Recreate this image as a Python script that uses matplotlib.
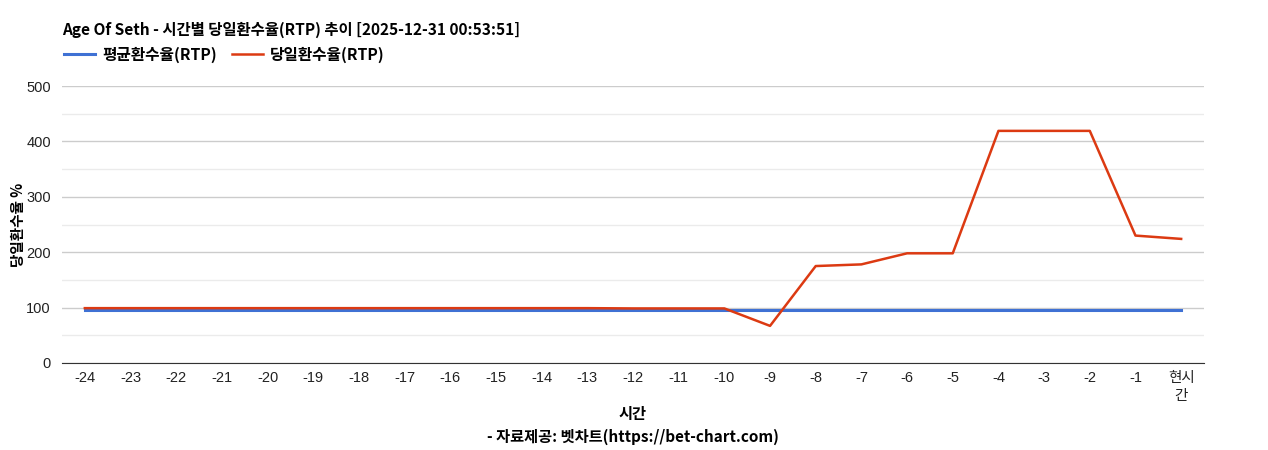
import matplotlib
matplotlib.use("Agg")
import matplotlib.pyplot as plt
from matplotlib.lines import Line2D

plt.rcParams['font.family'] = ['Noto Sans CJK KR', 'DejaVu Sans']
TICK_FONT = ['Liberation Sans', 'Noto Sans CJK KR']

# ==== 데이터 ====
hours = ['-24', '-23', '-22', '-21', '-20', '-19', '-18', '-17', '-16', '-15', '-14', '-13',
         '-12', '-11', '-10', '-9', '-8', '-7', '-6', '-5', '-4', '-3', '-2', '-1', '현시\n간']
avg_rtp = [96] * 25
day_rtp = [99, 99, 99, 99, 99, 99, 99, 99, 99, 99, 99, 99,
           98.5, 98.5, 98.5, 67, 175, 178, 198, 198, 419, 419, 419, 230, 224]

BLUE = '#3f71d4'
RED = '#dc3a12'

fig = plt.figure(figsize=(12.68, 4.5), dpi=100)
ax = fig.add_axes([62 / 1268, 1 - 363 / 450, (1204 - 62) / 1268, (363 - 86) / 450])

x = list(range(len(hours)))
ax.plot(x, avg_rtp, color=BLUE, linewidth=2.2, zorder=3)
ax.plot(x, day_rtp, color=RED, linewidth=1.8, zorder=4)

ax.set_xlim(-0.5, len(hours) - 0.5)
ax.set_ylim(0, 500)
ax.set_yticks(range(0, 501, 100))
ax.set_yticks(range(50, 500, 100), minor=True)
ax.set_xticks(x)
ax.set_xticklabels(hours, family=TICK_FONT, fontsize=10.5, linespacing=1.3)
ax.set_yticklabels([str(v) for v in range(0, 501, 100)], family=TICK_FONT, fontsize=10.5)
ax.tick_params(axis='both', length=0, colors='#222222')
ax.tick_params(axis='y', which='minor', length=0)
ax.tick_params(axis='x', pad=6)
ax.tick_params(axis='y', pad=8)

ax.grid(True, axis='y', which='major', color='#cccccc', linewidth=1)
ax.grid(True, axis='y', which='minor', color='#ebebeb', linewidth=1)
ax.set_axisbelow(True)
for side in ['top', 'right', 'left']:
    ax.spines[side].set_visible(False)
ax.spines['bottom'].set_color('#333333')

ax.set_ylabel('당일환수율 %', fontsize=10.5, fontweight='bold')
ax.yaxis.set_label_coords(-15 / 1142 - 0.018, 0.5)

fig.text(62 / 1268, 1 - 30 / 450, 'Age Of Seth - 시간별 당일환수율(RTP) 추이 [2025-12-31 00:53:51]',
         fontsize=11.1, fontweight='bold', va='center', ha='left')

handles = [Line2D([], [], color=BLUE, linewidth=2.2), Line2D([], [], color=RED, linewidth=1.8)]
fig.legend(handles, ['평균환수율(RTP)', '당일환수율(RTP)'], loc='center left',
           bbox_to_anchor=(58 / 1268, 1 - 55 / 450), ncol=2, frameon=False,
           prop={'size': 11.3, 'weight': 'bold'}, handlelength=1.95, handletextpad=0.45,
           columnspacing=1.0, borderaxespad=0)

fig.text(633 / 1268, 1 - 414 / 450, '시간', fontsize=11, fontweight='bold', ha='center', va='center')
fig.text(633 / 1268, 1 - 437 / 450, '- 자료제공: 벳차트(https://bet-chart.com)', fontsize=11,
         fontweight='bold', ha='center', va='center')

fig.savefig('out.png', dpi=100)
